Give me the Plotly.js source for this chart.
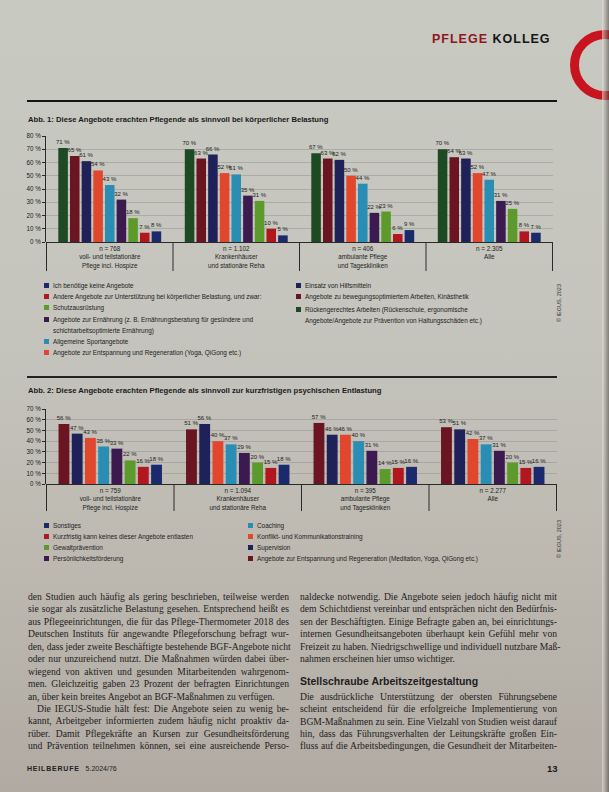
<!DOCTYPE html>
<html><head><meta charset="utf-8">
<script src="https://cdn.plot.ly/plotly-3.0.1.min.js"></script>
<style>
html,body{margin:0;padding:0;}
body{width:609px;height:792px;position:relative;overflow:hidden;
 background:linear-gradient(180deg,#c8c9c1 0%,#c5c5bd 40%,#bdb9b1 70%,#b0aaa2 100%);
 font-family:"Liberation Sans Narrow","Liberation Sans",sans-serif;color:#1c1c1c;}
#chart{position:absolute;left:0;top:0;width:609px;height:792px;z-index:2;}
.abs{position:absolute;white-space:nowrap;}
.leg{position:absolute;font-size:6.4px;line-height:11px;color:#222;z-index:3;}
.leg .it{position:relative;padding-left:9px;white-space:nowrap;}
.leg .sq{position:absolute;left:0;top:3px;width:5px;height:5px;}
.col{position:absolute;font-family:"Liberation Serif","DejaVu Serif",serif;font-size:9.6px;line-height:12.45px;color:#1d1d1d;z-index:3;}
.col div{text-align:justify;text-align-last:justify;white-space:nowrap;height:12.45px;overflow:visible;}
.col div.last{text-align-last:left;}
.title{position:absolute;font-weight:bold;font-size:7.65px;color:#1a1a1a;z-index:3;white-space:nowrap;}
</style></head><body>
<div id="chart"></div>
<script>
// ---------- DATA: Abb. 1 ----------
const groups1 = ['n = 768<br>voll- und teilstationäre<br>Pflege incl. Hospize',
                 'n = 1.102<br>Krankenhäuser<br>und stationäre Reha',
                 'n = 406<br>ambulante Pflege<br>und Tageskliniken',
                 'n = 2.305<br>Alle'];
const names1 = ['Rückengerechtes Arbeiten (Rückenschule, ergonomische<br>Angebote/Angebote zur Prävention von Haltungsschäden etc.)',
                'Angebote zu bewegungsoptimiertem Arbeiten, Kinästhetik',
                'Einsatz von Hilfsmitteln',
                'Angebote zur Entspannung und Regeneration (Yoga, QiGong etc.)',
                'Allgemeine Sportangebote',
                'Angebote zur Ernährung (z. B. Ernährungsberatung für gesündere und<br>schichtarbeitsoptimierte Ernährung)',
                'Schutzausrüstung',
                'Andere Angebote zur Unterstützung bei körperlicher Belastung, und zwar:',
                'Ich benötige keine Angebote'];
const a1_ruecken     = [71, 70, 67, 70];
const a1_bewegung    = [65, 63, 63, 64];
const a1_hilfsmittel = [61, 66, 62, 63];
const a1_entspannung = [54, 52, 50, 52];
const a1_sport       = [43, 51, 44, 47];
const a1_ernaehrung  = [32, 35, 22, 31];
const a1_schutz      = [18, 31, 23, 25];
const a1_andere      = [7, 10, 6, 8];
const a1_keine       = [8, 5, 9, 7];
const values1 = [a1_ruecken,a1_bewegung,a1_hilfsmittel,a1_entspannung,a1_sport,a1_ernaehrung,a1_schutz,a1_andere,a1_keine];

// ---------- DATA: Abb. 2 ----------
const groups2 = ['n = 759<br>voll- und teilstationäre<br>Pflege incl. Hospize',
                 'n = 1.094<br>Krankenhäuser<br>und stationäre Reha',
                 'n = 395<br>ambulante Pflege<br>und Tageskliniken',
                 'n = 2.277<br>Alle'];
const names2 = ['Angebote zur Entspannung und Regeneration (Meditation, Yoga, QiGong etc.)',
                'Supervision',
                'Konflikt- und Kommunikationstraining',
                'Coaching',
                'Persönlichkeitsförderung',
                'Gewaltprävention',
                'Kurzfristig kann keines dieser Angebote entlasten',
                'Sonstiges'];
const b2_entspannung = [56, 51, 57, 53];
const b2_supervision = [47, 56, 46, 51];
const b2_konflikt    = [43, 40, 46, 42];
const b2_coaching    = [35, 37, 40, 37];
const b2_persoenlich = [33, 29, 31, 31];
const b2_gewalt      = [22, 20, 14, 20];
const b2_keines      = [16, 15, 15, 15];
const b2_sonstiges   = [18, 18, 16, 16];
const values2 = [b2_entspannung,b2_supervision,b2_konflikt,b2_coaching,b2_persoenlich,b2_gewalt,b2_keines,b2_sonstiges];

// ---------- STYLE ----------
const colors1 = ['#1d4a22','#6a1521','#1f2259','#e0472c','#2a8db4','#3b1a50','#5c9a2c','#b2161f','#1b2a6c'];
const colors2 = ['#6a1521','#1f2259','#e0472c','#2a8db4','#3b1a50','#5c9a2c','#b2161f','#1b2a6c'];
const FONT = '"Liberation Sans Narrow","Liberation Sans",sans-serif';
const W = 609, H = 792;

const traces = [];
function barTrace(groups, v, name, color, xa, ya){
  return {type:'bar',x:groups,y:v,name:name,xaxis:xa,yaxis:ya,
    marker:{color:color},text:v.map(String),texttemplate:'%{text} %',textposition:'outside',
    constraintext:'none',cliponaxis:false,
    textfont:{size:6.0,color:'#1c1c1c',family:FONT},hoverinfo:'skip'};
}
values1.forEach((v,i)=>traces.push(barTrace(groups1,v,names1[i],colors1[i],'x','y')));
values2.forEach((v,i)=>traces.push(barTrace(groups2,v,names2[i],colors2[i],'x2','y2')));

function yax(dom, top){
  return {domain:dom,range:[0,top],dtick:10,ticksuffix:' %',showline:true,linecolor:'#2a2a2a',linewidth:1,
    ticks:'outside',ticklen:3,tickcolor:'#2a2a2a',gridcolor:'rgba(105,105,105,0.35)',gridwidth:0.8,
    zeroline:true,zerolinecolor:'#2a2a2a',zerolinewidth:1,tickfont:{size:6.3,family:FONT,color:'#1c1c1c'},fixedrange:true};
}
function xax(dom, anchor){
  return {domain:dom,anchor:anchor,type:'category',showline:false,ticks:'',showgrid:false,
    tickfont:{size:6.3,family:FONT,color:'#1c1c1c'},fixedrange:true,ticklabelstandoff:2};
}
const shapes = [];
function seps(n, xref, yTopPx, yBotPx){
  for(let i=0;i<=n;i++){
    shapes.push({type:'line',xref:xref,yref:'paper',x0:i-0.5,x1:i-0.5,y0:1-yTopPx/H,y1:1-yBotPx/H,
      line:{color:'#2a2a2a',width:1}});
  }
}
seps(groups1.length,'x',242,271);
seps(groups2.length,'x2',484,511);

const layout = {
  width:W,height:H,margin:{l:0,r:0,t:0,b:0},
  paper_bgcolor:'rgba(0,0,0,0)',plot_bgcolor:'rgba(0,0,0,0)',
  barmode:'group',bargap:0.17,bargroupgap:0.18,showlegend:false,
  font:{family:FONT,size:6.4,color:'#1c1c1c'},
  xaxis:xax([46/W,553/W],'y'),
  yaxis:Object.assign(yax([1-242/H,1-136/H],80),{anchor:'x'}),
  xaxis2:xax([46/W,557/W],'y2'),
  yaxis2:Object.assign(yax([1-484/H,1-409/H],70),{anchor:'x2'}),
  shapes:shapes
};
Plotly.newPlot('chart',traces,layout,{displayModeBar:false,staticPlot:true});

// ---------- legends (built from the series arrays) ----------
function legend(left, top, idxs, names, colors, extra){
  const d=document.createElement('div'); d.className='leg'; d.style.left=left+'px'; d.style.top=top+'px';
  idxs.forEach((k,j)=>{
    const it=document.createElement('div'); it.className='it';
    if(extra && extra[j]) it.style.marginTop=extra[j]+'px';
    const sq=document.createElement('span'); sq.className='sq'; sq.style.background=colors[k];
    it.appendChild(sq);
    const t=document.createElement('span'); t.innerHTML=names[k]; it.appendChild(t);
    d.appendChild(it);
  });
  document.body.appendChild(d);
}
legend(44,280,[8,7,6,5,4,3],names1,colors1,[0,0,0,1,0,0]);
legend(296,280,[2,1,0],names1,colors1,[0,0,2]);
legend(44,520,[7,6,5,4],names2,colors2);
legend(248,520,[3,2,1,0],names2,colors2);
</script>

<!-- page decorations -->
<div class="abs" style="left:432px;top:32px;font-family:'Liberation Sans','DejaVu Sans',sans-serif;font-weight:bold;font-size:12.5px;letter-spacing:1px;z-index:3;"><span style="color:#8e1620">PFLEGE</span> <span style="color:#151515">KOLLEG</span></div>
<div class="abs" style="left:570px;top:30px;width:70px;height:70px;border-radius:50%;border:9px solid #c8141e;box-sizing:border-box;z-index:1;"></div>
<div class="abs" style="left:602px;top:0;width:7px;height:792px;background:linear-gradient(90deg,rgba(235,232,226,0.6),rgba(60,55,50,0.5));z-index:1;"></div>
<div class="abs" style="left:27px;top:100px;width:530px;height:2px;background:#141414;z-index:3;"></div>
<div class="abs" style="left:27px;top:376px;width:530px;height:1.5px;background:#222;z-index:3;"></div>

<div class="title" style="left:28px;top:115px;">Abb. 1: Diese Angebote erachten Pflegende als sinnvoll bei körperlicher Belastung</div>
<div class="title" style="left:28px;top:386px;">Abb. 2: Diese Angebote erachten Pflegende als sinnvoll zur kurzfristigen psychischen Entlastung</div>

<div class="abs" style="left:556px;top:322px;font-size:5.5px;transform:rotate(-90deg);transform-origin:left top;color:#333;z-index:3;">© IEGUS, 2023</div>
<div class="abs" style="left:556px;top:558px;font-size:5.5px;transform:rotate(-90deg);transform-origin:left top;color:#333;z-index:3;">© IEGUS, 2023</div>

<div class="col" style="left:28px;top:591px;width:261px;">
<div>den Studien auch häufig als gering beschrieben, teilweise werden</div>
<div>sie sogar als zusätzliche Belastung gesehen. Entsprechend heißt es</div>
<div>aus Pflegeeinrichtungen, die für das Pflege-Thermometer 2018 des</div>
<div>Deutschen Instituts für angewandte Pflegeforschung befragt wur-</div>
<div>den, dass jeder zweite Beschäftigte bestehende BGF-Angebote nicht</div>
<div>oder nur unzureichend nutzt. Die Maßnahmen würden dabei über-</div>
<div>wiegend von aktiven und gesunden Mitarbeitenden wahrgenom-</div>
<div>men. Gleichzeitig gaben 23 Prozent der befragten Einrichtungen</div>
<div class="last">an, über kein breites Angebot an BGF-Maßnahmen zu verfügen.</div>
<div style="padding-left:9px;">Die IEGUS-Studie hält fest: Die Angebote seien zu wenig be-</div>
<div>kannt, Arbeitgeber informierten zudem häufig nicht proaktiv da-</div>
<div>rüber. Damit Pflegekräfte an Kursen zur Gesundheitsförderung</div>
<div>und Prävention teilnehmen können, sei eine ausreichende Perso-</div>
</div>

<div class="col" style="left:300px;top:591px;width:257px;">
<div>naldecke notwendig. Die Angebote seien jedoch häufig nicht mit</div>
<div>dem Schichtdienst vereinbar und entsprächen nicht den Bedürfnis-</div>
<div>sen der Beschäftigten. Einige Befragte gaben an, bei einrichtungs-</div>
<div>internen Gesundheitsangeboten überhaupt kein Gefühl mehr von</div>
<div>Freizeit zu haben. Niedrigschwellige und individuell nutzbare Maß-</div>
<div class="last">nahmen erscheinen hier umso wichtiger.</div>
<div class="last" style="height:9px"></div>
<div class="last" style="font-family:'Liberation Sans Narrow','Liberation Sans',sans-serif;font-weight:bold;font-size:10.5px;height:16px;">Stellschraube Arbeitszeitgestaltung</div>
<div>Die ausdrückliche Unterstützung der obersten Führungsebene</div>
<div>scheint entscheidend für die erfolgreiche Implementierung von</div>
<div>BGM-Maßnahmen zu sein. Eine Vielzahl von Studien weist darauf</div>
<div>hin, dass das Führungsverhalten der Leitungskräfte großen Ein-</div>
<div>fluss auf die Arbeitsbedingungen, die Gesundheit der Mitarbeiten-</div>
</div>

<div class="abs" style="left:27px;top:765px;font-family:'Liberation Sans','DejaVu Sans',sans-serif;font-size:7px;color:#222;z-index:3;"><b style="letter-spacing:0.8px">HEILBERUFE</b>&nbsp;&nbsp; 5.2024/76</div>
<div class="abs" style="left:547px;top:763px;font-family:'Liberation Sans','DejaVu Sans',sans-serif;font-size:9.5px;font-weight:bold;color:#1a1a1a;z-index:3;">13</div>
</body></html>
